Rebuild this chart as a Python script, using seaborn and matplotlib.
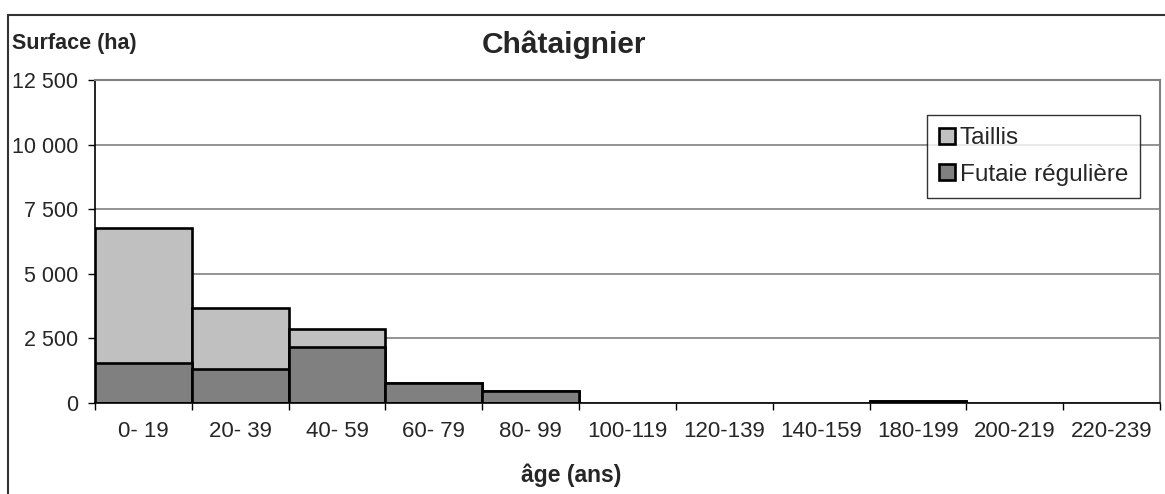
import matplotlib
matplotlib.use("Agg")
import matplotlib.pyplot as plt
import matplotlib.ticker as mticker
from matplotlib.patches import Rectangle
import seaborn as sns
import pandas as pd
import numpy as np

categories = ["0- 19", "20- 39", "40- 59", "60- 79", "80- 99", "100-119",
              "120-139", "140-159", "180-199", "200-219", "220-239"]
futaie = [1530, 1300, 2150, 760, 450, 0, 0, 0, 70, 0, 0]
taillis = [5260, 2390, 705, 0, 0, 0, 0, 0, 0, 0, 0]

sns.set_style("white")
plt.rcParams["font.family"] = ["Liberation Sans", "DejaVu Sans"]

df = pd.DataFrame({"cat": categories, "futaie": futaie, "taillis": taillis})
df["total"] = df["futaie"] + df["taillis"]

fig = plt.figure(figsize=(11.65, 4.94), dpi=100)
ax = fig.add_axes([95 / 1165, 1 - 403 / 494, (1160 - 95) / 1165, (403 - 80) / 494])

sns.barplot(data=df, x="cat", y="total", color="#C0C0C0", width=1.0,
            edgecolor="black", linewidth=1.9, saturation=1, ax=ax, label="Taillis")
sns.barplot(data=df, x="cat", y="futaie", color="#808080", width=1.0,
            edgecolor="black", linewidth=1.9, saturation=1, ax=ax, label="Futaie régulière")
for p in ax.patches:
    if p.get_height() == 0:
        p.set_linewidth(0)

ax.set_xlim(-0.5, len(categories) - 0.5)
ax.set_ylim(0, 12500)
ax.yaxis.set_major_locator(mticker.MultipleLocator(2500))
ax.yaxis.set_major_formatter(mticker.FuncFormatter(lambda v, _: f"{int(v):,}".replace(",", " ")))
ax.grid(axis="y", color="#808080", linewidth=1.2)
ax.set_axisbelow(True)

ax.set_xlabel("")
ax.set_ylabel("")
ax.xaxis.set_minor_locator(mticker.FixedLocator(np.arange(-0.5, len(categories), 1.0)))
ax.tick_params(axis="x", which="major", length=0, pad=13, labelsize=16)
ax.tick_params(axis="x", which="minor", length=5, width=1, color="black", direction="out", bottom=True)
ax.tick_params(axis="y", length=5, width=1, color="black", direction="out", left=True, pad=7, labelsize=15.5)

for s in ["left", "bottom"]:
    ax.spines[s].set_color("black")
    ax.spines[s].set_linewidth(1.2)
for s in ["top", "right"]:
    ax.spines[s].set_visible(True)
    ax.spines[s].set_color("#808080")
    ax.spines[s].set_linewidth(1.5)

handles, labels = ax.get_legend_handles_labels()
leg = ax.legend(handles, labels, loc="upper left",
                bbox_to_anchor=(927 / 1165, 1 - 115 / 494), bbox_transform=fig.transFigure,
                frameon=True, fancybox=False, edgecolor="black", fontsize=17.5,
                handlelength=0.65, handleheight=0.65, handletextpad=0.2,
                borderpad=0.5, labelspacing=0.6, borderaxespad=0)
leg.get_frame().set_linewidth(1.0)

fig.text(564 / 1165, 1 - 53 / 494, "Châtaignier", ha="center", va="baseline",
         fontsize=21.5, fontweight="bold")
fig.text(12 / 1165, 1 - 49 / 494, "Surface (ha)", ha="left", va="baseline",
         fontsize=15.5, fontweight="bold")
fig.text(571 / 1165, 1 - 482 / 494, "âge (ans)", ha="center", va="baseline",
         fontsize=16.5, fontweight="bold")

fig.patches.append(Rectangle((8 / 1165, -0.05), 1.1, 0.05 + (1 - 15 / 494),
                             transform=fig.transFigure, fill=False,
                             edgecolor="#333333", linewidth=1.5))

fig.savefig("out.png", dpi=100)
